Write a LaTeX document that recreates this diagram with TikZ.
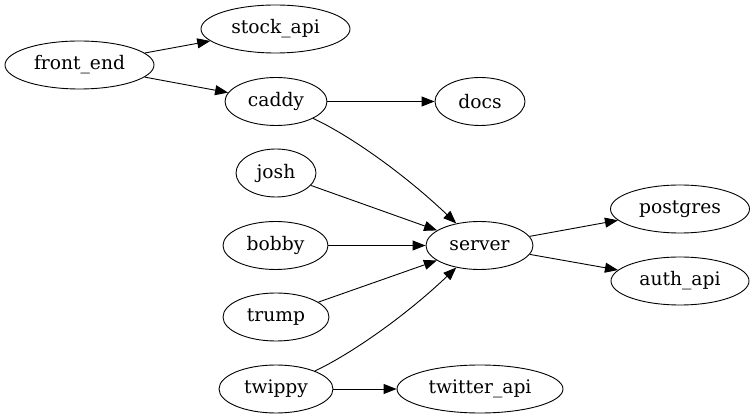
\documentclass[tikz,border=0pt]{standalone}
\usepackage{fontspec}
\setmainfont{DejaVu Serif}
\usetikzlibrary{shapes.geometric,arrows.meta}
\tikzset{
  gnode/.style={ellipse,draw,line width=0.9pt,inner sep=0pt,minimum height=48pt,
    font=\fontsize{18.67}{22}\selectfont},
  gedge/.style={line width=0.9pt,-{Triangle[length=13pt,width=10pt]}}
}
\begin{document}
\begin{tikzpicture}[x=1pt,y=-1pt]
\useasboundingbox (0,0) rectangle (753,419);
\node[gnode,minimum width=149pt] (front_end) at (79.5,65) {front\_end};
\node[gnode,minimum width=149pt] (stock_api) at (275.5,29) {stock\_api};
\node[gnode,minimum width=102pt] (caddy) at (276,101.5) {caddy};
\node[gnode,minimum width=90pt] (docs) at (480,101.5) {docs};
\node[gnode,minimum width=80pt] (josh) at (276,173) {josh};
\node[gnode,minimum width=105pt] (bobby) at (275.5,245.5) {bobby};
\node[gnode,minimum width=106pt] (trump) at (276,317) {trump};
\node[gnode,minimum width=114pt] (twippy) at (276,389) {twippy};
\node[gnode,minimum width=166pt] (twitter_api) at (480,389) {twitter\_api};
\node[gnode,minimum width=107pt] (server) at (479.5,245.5) {server};
\node[gnode,minimum width=139pt] (postgres) at (680,209) {postgres};
\node[gnode,minimum width=138pt] (auth_api) at (680,281) {auth\_api};

\draw[gedge] (front_end) -- (stock_api);
\draw[gedge] (front_end) -- (caddy);
\draw[gedge] (caddy) -- (docs);
\draw[gedge] (caddy) .. controls (345,133) and (400,170) .. (server);
\draw[gedge] (josh) -- (server);
\draw[gedge] (bobby) -- (server);
\draw[gedge] (trump) -- (server);
\draw[gedge] (twippy) .. controls (345,357) and (400,321) .. (server);
\draw[gedge] (twippy) -- (twitter_api);
\draw[gedge] (server) -- (postgres);
\draw[gedge] (server) -- (auth_api);
\end{tikzpicture}
\end{document}
